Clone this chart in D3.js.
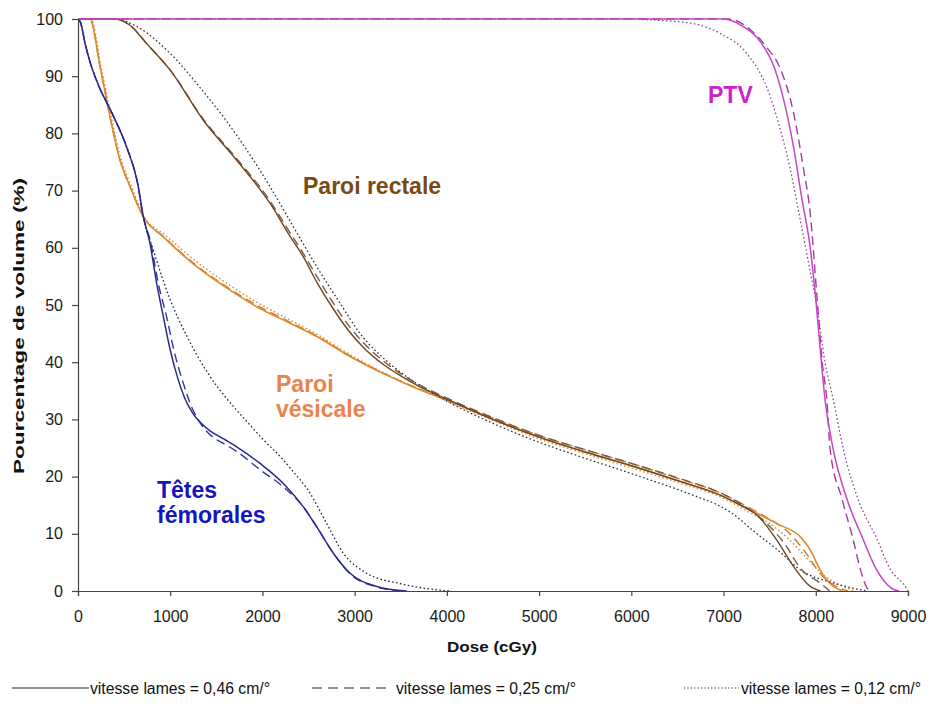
<!DOCTYPE html>
<html><head><meta charset="utf-8">
<script src="https://cdn.jsdelivr.net/npm/d3@7"></script>
<style>
html,body{margin:0;padding:0;background:#fff;}
svg{display:block;font-family:"Liberation Sans",Arial,sans-serif;}
</style></head>
<body>
<svg id="chart" width="932" height="709"></svg>
<script>
// ---- Data (dose in cGy, volume in %) ----
const xTicks = [0,1000,2000,3000,4000,5000,6000,7000,8000,9000];
const yTicks = [0,10,20,30,40,50,60,70,80,90,100];

const ptvSolid = [[0,100],[7000,100],[7200,98.8],[7400,96],[7550,91.5],[7650,86],[7760,77.5],[7850,68.5],[7940,60],[8000,51],[8050,42],[8100,33.5],[8190,24.7],[8340,16],[8514,9],[8650,4],[8840,0.3],[8900,0]];
const ptvDashed = [[0,100],[7050,100],[7300,98],[7470,95],[7610,91.5],[7760,83.5],[7865,74],[7940,66],[8015,51],[8070,40],[8120,33.4],[8156,24.7],[8286,16],[8405,9],[8480,4],[8557,0.5],[8600,0]];
const ptvDotted = [[0,100],[5800,100],[6530,99.5],[6960,97.5],[7250,94],[7470,88],[7610,81],[7720,74],[7830,65],[7950,55],[8010,50],[8100,40],[8190,33.4],[8300,24.7],[8460,16],[8666,9],[8800,4],[8990,0.3],[9000,0]];

const rectSolid = [[0,100],[400,100],[564,98.9],[745,95.7],[998,91.1],[1359,82.3],[1721,75.3],[2082,67.8],[2300,62],[2444,58.4],[2589,54],[2769,49.3],[2950,45.2],[3100,42.5],[3312,39.6],[3500,37.6],[3673,36],[3962,33.8],[4500,30],[5000,26.9],[5500,24.3],[6000,21.9],[6500,19.3],[7000,16.5],[7216,14.7],[7361,13.3],[7577,8.9],[7758,4.3],[7939,0.8],[8050,0]];
const rectDashed = [[0,100],[400,100],[564,98.9],[745,95.7],[998,91.1],[1359,82.5],[1721,75.6],[2082,68.2],[2300,62.6],[2444,59],[2589,55],[2769,50.3],[2950,46.1],[3100,43.3],[3312,40.2],[3500,38],[3673,36.3],[3962,34],[4500,30.3],[5000,27.2],[5500,24.7],[6000,22.3],[6500,19.8],[7000,16.9],[7250,14.6],[7469,11.8],[7686,7.7],[7831,4],[8047,1.4],[8150,0]];
const rectDotted = [[0,100],[400,100],[636,98.7],[998,94],[1359,87.3],[1576,82.9],[1830,77.1],[2082,70.7],[2335,63.7],[2589,56.7],[2842,50.3],[3059,45],[3348,40.2],[3700,36],[4000,33.2],[4500,29.3],[4902,26.6],[5500,23.2],[5987,20.6],[6710,16.5],[6927,15.1],[7072,13.8],[7361,10],[7600,7],[7831,3.7],[8190,1.4],[8557,0]];

const vesSolid = [[0,100],[130,100],[239,91.7],[347,82.9],[456,75.3],[564,70.7],[709,65.4],[925,61.9],[1287,56.7],[1649,52.6],[1938,49.7],[2300,46.8],[2589,44.5],[2950,41],[3312,38],[3673,35.4],[4000,33.4],[4500,30],[5000,26.9],[5500,24.3],[6000,21.9],[6500,19.3],[7000,16.5],[7250,14.5],[7397,13.3],[7600,11.6],[7831,9.5],[7939,7.2],[8047,3.7],[8190,0.8],[8300,0]];
const vesDashed = [[0,100],[130,100],[239,91.7],[347,82.9],[456,75.3],[564,70.7],[709,65.4],[925,62],[1287,56.9],[1649,52.8],[1938,50],[2300,47],[2589,44.6],[2950,41.1],[3312,38.1],[3673,35.5],[4000,33.5],[4500,30.2],[5000,27.2],[5500,24.7],[6000,22.3],[6500,19.7],[7000,16.9],[7250,14.8],[7450,13],[7700,10.3],[7900,6.5],[8050,3],[8200,1],[8350,0]];
const vesDotted = [[0,100],[140,100],[250,91.7],[360,82.9],[470,75.3],[580,70.7],[720,65.4],[940,62.3],[1300,57.4],[1660,53.3],[1950,50.4],[2310,47.3],[2600,44.8],[2960,41.2],[3320,38.1],[3680,35.4],[4000,33.2],[4500,29.8],[5000,26.6],[5500,24],[6000,21.5],[6500,19],[7000,16.2],[7250,14],[7450,12.3],[7700,9.2],[7900,5.8],[8100,2.6],[8300,0.8],[8420,0]];

const femSolid = [[0,100],[25,99.5],[80,95.5],[130,92.5],[220,88.5],[370,83.5],[530,77.5],[650,71],[705,65.7],[780,60.8],[853,53.8],[925,48],[998,42.3],[1080,37.3],[1150,34],[1240,31.2],[1330,29.4],[1432,28],[1600,26.4],[1721,25.2],[1974,22.3],[2227,18.8],[2444,14.7],[2589,11.2],[2769,6.6],[2950,3.1],[3240,0.8],[3565,0]];
const femDashed = [[0,100],[25,99.5],[80,95.5],[130,92.5],[220,88.5],[370,83.5],[530,77.5],[650,71],[705,65.7],[790,60.8],[870,53.8],[960,48],[1040,42.1],[1142,36.3],[1251,31.5],[1350,28.8],[1432,27.3],[1600,25.6],[1721,24.4],[1974,21.2],[2227,18.2],[2444,14.7],[2589,11.2],[2769,6.6],[2950,3],[3240,0.7],[3500,0]];
const femDotted = [[0,100],[25,99.5],[80,95.5],[130,92.5],[220,88.5],[370,83.5],[530,77.5],[650,71],[705,65.7],[817,59.6],[998,51],[1179,44.6],[1432,37.5],[1594,34],[1721,31.6],[1866,29],[1995,26.7],[2227,22.9],[2300,21.5],[2516,17.1],[2697,11.8],[2878,6.6],[3131,3.1],[3492,1.3],[3962,0.1],[4050,0]];

const legendLabels = ["vitesse lames = 0,46 cm/°","vitesse lames = 0,25 cm/°","vitesse lames = 0,12 cm/°"];
const structureLabels = [["PTV"],["Paroi rectale"],["Paroi","vésicale"],["Têtes","fémorales"]];

// ---- Drawing ----
const svg = d3.select("#chart");
svg.append("rect").attr("width",932).attr("height",709).attr("fill","#fff");

const x = d3.scaleLinear().domain([0,9000]).range([78,908]);
const y = d3.scaleLinear().domain([0,100]).range([591,19]);

const line = d3.line().x(d=>x(d[0])).y(d=>y(d[1])).curve(d3.curveMonotoneX);

const DASH = "9,5", DOT = "1.6,2.4";
const series = [
  {d:vesDotted, c:"#d98c3c", dash:DOT, w:1.4},
  {d:vesDashed, c:"#c77a35", dash:DASH, w:1.4},
  {d:vesSolid,  c:"#de8a2c", dash:null, w:1.6},
  {d:rectDotted,c:"#333333", dash:DOT, w:1.3},
  {d:rectDashed,c:"#7a5a40", dash:DASH, w:1.4},
  {d:rectSolid, c:"#6b4524", dash:null, w:1.4},
  {d:femDotted, c:"#20204a", dash:DOT, w:1.3},
  {d:femDashed, c:"#34349a", dash:DASH, w:1.4},
  {d:femSolid,  c:"#2a2a8c", dash:null, w:1.5},
  {d:ptvDotted, c:"#8e4a8e", dash:DOT, w:1.3},
  {d:ptvDashed, c:"#a8399f", dash:DASH, w:1.4},
  {d:ptvSolid,  c:"#c545c5", dash:null, w:1.5},
];
const g = svg.append("g");
series.forEach(s=>{
  g.append("path").datum(s.d).attr("d",line).attr("fill","none")
    .attr("stroke",s.c).attr("stroke-width",s.w)
    .attr("stroke-dasharray",s.dash);
});

// axes
const yAxis = d3.axisLeft(y).tickValues(yTicks).tickSize(6).tickPadding(9).tickFormat(d3.format("d"));
const xAxis = d3.axisBottom(x).tickValues(xTicks).tickSize(5).tickPadding(15).tickFormat(d3.format("d"));
const ga = svg.append("g").attr("transform","translate(78,0)").call(yAxis);
const gb = svg.append("g").attr("transform","translate(0,591)").call(xAxis);
[ga,gb].forEach(a=>{
  a.select(".domain").attr("stroke","#444").attr("stroke-width",1.2);
  a.selectAll(".tick line").attr("stroke","#444").attr("stroke-width",1.2);
  a.selectAll(".tick text").attr("fill","#1a1a1a").style("font-size","16px").style("font-family","'Liberation Sans',Arial,sans-serif");
});

// axis titles
svg.append("text").attr("x",492).attr("y",652).attr("text-anchor","middle")
  .attr("font-weight","bold").attr("font-size",15).attr("fill","#111")
  .attr("textLength",90).attr("lengthAdjust","spacingAndGlyphs").text("Dose (cGy)");
svg.append("text").attr("transform","translate(24,326) rotate(-90)").attr("text-anchor","middle")
  .attr("font-weight","bold").attr("font-size",15).attr("fill","#111")
  .attr("textLength",296).attr("lengthAdjust","spacingAndGlyphs").text("Pourcentage de volume  (%)");

// structure labels
const lab = [
  {t:structureLabels[0], x:708, y:103, c:"#cc22cc"},
  {t:structureLabels[1], x:303, y:194, c:"#7a4a12"},
  {t:structureLabels[2], x:276, y:392, c:"#e8844c"},
  {t:structureLabels[3], x:157, y:498, c:"#1414c0"},
];
lab.forEach(l=>{
  const tx = svg.append("text").attr("font-weight","bold").attr("font-size",23).attr("fill",l.c);
  l.t.forEach((s,i)=>{
    tx.append("tspan").attr("x",l.x).attr("y",l.y+i*25).text(s);
  });
});

// legend
const leg = [
  {x1:12,x2:89,tx:90,dash:null},
  {x1:312,x2:390,tx:396,dash:"10,6"},
  {x1:684,x2:739,tx:741,dash:"1.2,2.2"},
];
leg.forEach((l,i)=>{
  svg.append("line").attr("x1",l.x1).attr("x2",l.x2).attr("y1",688).attr("y2",688)
    .attr("stroke","#222").attr("stroke-width",1.2).attr("stroke-dasharray",l.dash);
  svg.append("text").attr("x",l.tx).attr("y",694).attr("font-size",16).attr("fill","#111")
    .attr("textLength",180).attr("lengthAdjust","spacingAndGlyphs").text(legendLabels[i]);
});
</script>
</body></html>
